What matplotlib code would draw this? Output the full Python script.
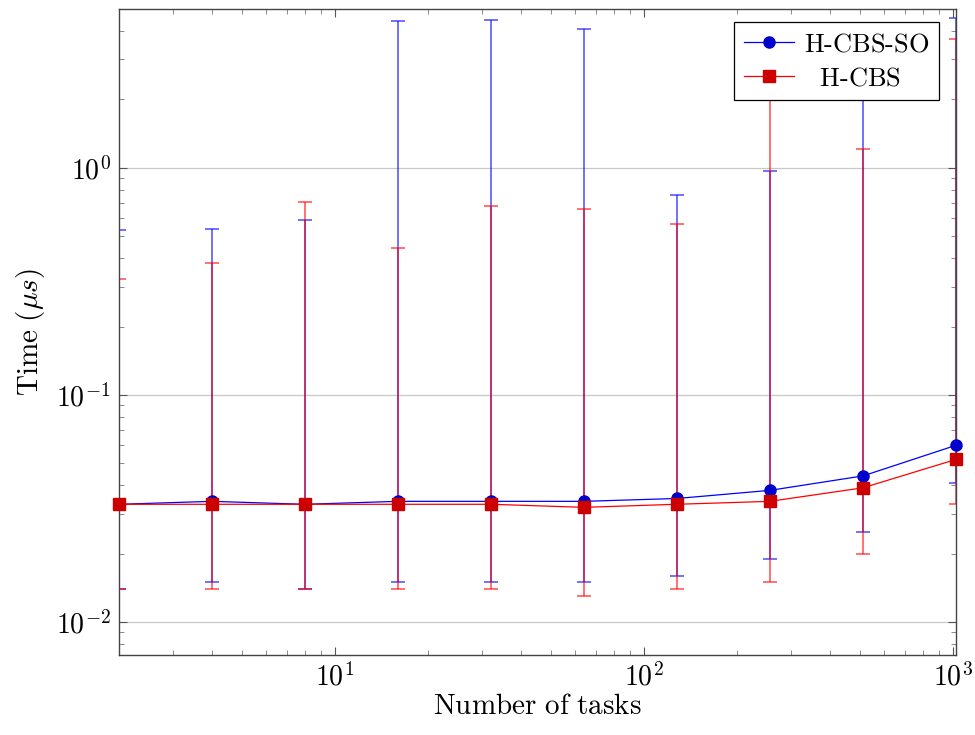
import matplotlib
matplotlib.use("Agg")
import matplotlib.pyplot as plt
from matplotlib.ticker import FuncFormatter, LogLocator
import numpy as np

plt.rcParams['mathtext.fontset'] = 'cm'
plt.rcParams['font.family'] = ['DejaVu Serif']

tasks = [2, 4, 8, 16, 32, 64, 128, 256, 512, 1024]

so_mean = [0.033, 0.034, 0.033, 0.034, 0.034, 0.034, 0.035, 0.038, 0.044, 0.060]
so_low = [0.014, 0.015, 0.014, 0.015, 0.015, 0.015, 0.016, 0.019, 0.025, 0.041]
so_high = [0.533, 0.54, 0.59, 4.44, 4.49, 4.1, 0.76, 0.97, 3.0, 4.58]

cbs_mean = [0.033, 0.033, 0.033, 0.033, 0.033, 0.032, 0.033, 0.034, 0.039, 0.052]
cbs_low = [0.014, 0.014, 0.014, 0.014, 0.014, 0.013, 0.014, 0.015, 0.020, 0.033]
cbs_high = [0.325, 0.381, 0.708, 0.444, 0.68, 0.66, 0.567, 2.8, 1.21, 3.70]

fig = plt.figure(figsize=(9.75, 7.35), dpi=100)
ax = fig.add_axes([0.122, 0.1088, 0.8585, 0.879])

def err(mean, low, high):
    m = np.array(mean); return [m - np.array(low), np.array(high) - m]

ax.errorbar(tasks, so_mean, yerr=err(so_mean, so_low, so_high), fmt='none',
            ecolor=(0, 0, 1), alpha=0.65, elinewidth=1.2, capsize=5, capthick=1.2, zorder=2)
ax.errorbar(tasks, cbs_mean, yerr=err(cbs_mean, cbs_low, cbs_high), fmt='none',
            ecolor=(1, 0, 0), alpha=0.65, elinewidth=1.2, capsize=5, capthick=1.2, zorder=2)

ax.plot(tasks, so_mean, color=(0, 0, 1), lw=0.9, marker='o', ms=8,
        mfc=(0, 0, 0.8), mec=(0, 0, 0.8), label=r'$\mathrm{H\text{-}CBS\text{-}SO}$', zorder=3, clip_on=False)
ax.plot(tasks, cbs_mean, color=(1, 0, 0), lw=0.9, marker='s', ms=8,
        mfc=(0.8, 0, 0), mec=(0.8, 0, 0), label=r'$\mathrm{\ \ H\text{-}CBS}$', zorder=3, clip_on=False)

ax.set_xscale('log')
ax.set_yscale('log')
ax.set_xlim(2, 1024)
ax.set_ylim(0.00716, 5.0)

fmt = FuncFormatter(lambda v, p: r'$10^{%d}$' % int(round(np.log10(v))))
ax.xaxis.set_major_locator(LogLocator(base=10))
ax.yaxis.set_major_locator(LogLocator(base=10))
ax.xaxis.set_major_formatter(fmt)
ax.yaxis.set_major_formatter(fmt)

ax.grid(True, which='major', axis='y', color='#c8c8c8', lw=0.9)
ax.set_axisbelow(True)
ax.tick_params(which='both', direction='in', top=True, right=True, labelsize=20)
ax.tick_params(which='major', length=6, width=0.8, color='#555555', pad=6)
ax.tick_params(which='minor', length=3.5, width=0.6, color='#777777')
for s in ax.spines.values():
    s.set_color('#444444'); s.set_linewidth(1.0)

ax.set_xlabel(r'$\mathrm{Number\ of\ tasks}$', fontsize=21, labelpad=0)
ax.set_ylabel(r'$\mathrm{Time}\ (\mu s)$', fontsize=21, labelpad=6)

leg = ax.legend(loc='upper right', fontsize=19, fancybox=False, framealpha=1,
                edgecolor='black', borderpad=0.35, handlelength=1.9,
                bbox_to_anchor=(0.9797, 0.98), borderaxespad=0,
                labelspacing=0.35, handletextpad=0.4)
leg.get_frame().set_linewidth(0.9)
leg.set_zorder(5)

fig.savefig('out.png', dpi=100)
